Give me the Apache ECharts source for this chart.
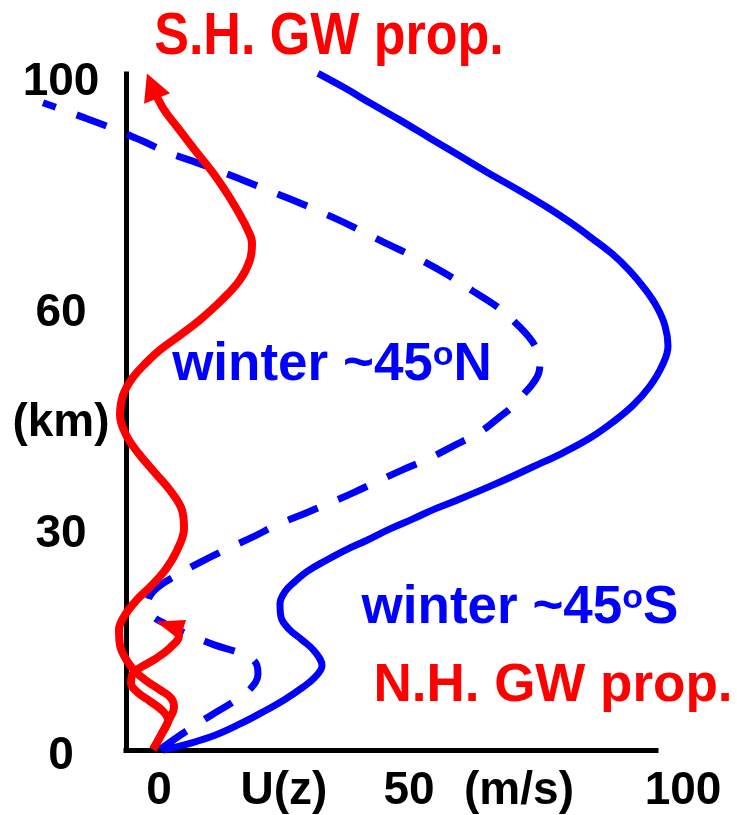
<!DOCTYPE html>
<html><head><meta charset="utf-8">
<script src="https://cdn.jsdelivr.net/npm/echarts@6/dist/echarts.min.js"></script>
<style>html,body{margin:0;padding:0;background:#fff}#c{width:737px;height:815px}</style>
</head><body><div id="c"></div>
<script>
// Schematic profiles [U (m/s), z (km-like plot units)]
const winterSouth = [[0.8,0.0],[6.2,1.0],[11.2,2.2],[16.2,3.9],[20.8,5.7],[25.0,7.5],[28.6,9.3],[31.2,10.9],[32.6,12.6],[31.2,14.7],[28.6,16.5],[26.0,18.1],[24.4,19.9],[24.2,21.9],[25.2,23.7],[27.0,25.1],[29.8,26.8],[33.2,28.3],[37.2,29.9],[41.6,31.4],[46.2,33.1],[50.8,34.6],[55.2,36.1],[59.6,37.4],[67.2,39.8],[74.8,42.4],[80.8,44.5],[86.2,46.7],[90.8,49.1],[94.8,51.6],[98.2,54.5],[100.6,57.5],[101.8,60.5],[101.2,63.5],[99.6,66.3],[97.2,69.0],[94.2,71.7],[90.6,74.3],[86.6,76.6],[82.4,78.9],[78.2,81.0],[72.2,83.7],[65.6,86.5],[59.8,89.1],[54.2,91.6],[48.2,94.3],[42.6,96.7],[37.2,99.1],[31.8,101.3]];
const winterNorth = [[0.2,0.1],[5.2,2.7],[10.2,5.1],[14.8,7.2],[18.2,9.1],[19.8,11.4],[19.2,13.2],[16.2,14.5],[11.2,15.7],[6.2,17.2],[1.2,18.9],[-1.8,20.5],[-2.2,22.0],[-0.8,24.0],[3.6,26.2],[8.2,28.1],[13.6,30.1],[18.8,31.9],[23.6,33.7],[28.8,35.3],[34.2,37.0],[38.8,38.5],[44.2,40.4],[48.6,41.9],[54.2,43.7],[58.8,45.5],[64.2,47.6],[68.2,49.9],[71.0,51.6],[73.0,53.3],[74.8,54.9],[76.0,56.6],[76.2,58.4],[75.4,60.2],[74.0,61.8],[71.8,63.6],[69.4,65.3],[66.8,66.8],[62.8,68.7],[57.8,71.1],[52.8,73.2],[47.8,75.0],[42.8,76.8],[37.8,78.7],[32.8,80.4],[27.8,82.0],[22.8,83.5],[17.2,85.2],[11.6,86.8],[6.6,88.2],[1.6,89.5],[-3.4,91.2],[-8.4,92.8],[-15.8,94.9],[-23.2,96.9]];
const shGW = [[-1.2,0.1],[0.6,2.5],[2.2,4.8],[3.0,6.4],[2.4,7.8],[0.2,9.0],[-2.4,10.3],[-4.8,11.8],[-6.6,13.6],[-7.8,15.7],[-8.0,18.0],[-6.8,20.2],[-4.4,22.5],[-1.8,24.4],[1.2,26.9],[3.6,29.9],[5.0,33.2],[4.6,35.9],[2.6,38.5],[-0.8,41.5],[-4.2,44.5],[-6.6,47.2],[-7.8,50.1],[-7.2,53.1],[-5.2,55.8],[-2.4,58.1],[0.2,59.9],[4.2,62.1],[8.2,64.4],[12.6,67.4],[16.2,70.4],[18.2,73.4],[18.6,75.9],[17.6,78.1],[16.2,80.1],[13.8,83.1],[10.8,86.4],[7.2,89.8],[3.6,93.3],[0.8,96.1],[-1.4,99.4]];
const nhGW = [[-1.2,0.1],[0.6,2.5],[1.8,4.5],[0.8,5.8],[-1.8,7.3],[-4.4,8.7],[-5.6,10.0],[-5.4,11.2],[-3.8,12.3],[-0.8,13.6],[2.2,15.3],[4.0,17.1],[2.1,18.6]];

const uTickValues = [0, 25, 50, 72, 99];
const uTickLabels = ['0', 'U(z)', '50', '(m/s)', '100'];
const zTickValues = [0, 32.3, 48.9, 65.3, 100];
const zTickLabels = ['0', '30', '(km)', '60', '100'];

const titleText = 'S.H. GW prop.';
const nhText = 'N.H. GW prop.';
const northText = ['winter ~45', 'o', 'N'];
const southText = ['winter ~45', 'o', 'S'];

const FF = '"Liberation Sans", Arial, Helvetica, sans-serif';
function nearestIdx(arr, v){let b=0;for(let i=1;i<arr.length;i++){if(Math.abs(arr[i]-v)<Math.abs(arr[b]-v))b=i;}return b;}

function richLabel(parts, color){
  return {
    text: '{a|' + parts[0] + '}{s|' + parts[1] + '}{a|' + parts[2] + '}',
    align: 'center', verticalAlign: 'middle',
    rich: {
      a: {fontSize: 53, fontWeight: 'bold', fontFamily: FF, fill: color, color: color, lineHeight: 53, verticalAlign: 'middle'},
      s: {fontSize: 34, fontWeight: 'bold', fontFamily: FF, fill: color, color: color, lineHeight: 28, verticalAlign: 'top'}
    }
  };
}

// Axis frames: grid 0 is a wider drawing frame (same scale: 5 px per m/s, 6.68 px per unit height)
// so curves running past the visible axes are not clipped; grid 1 carries the visible axes.
const chart = echarts.init(document.getElementById('c'), null, {renderer: 'canvas'});
chart.setOption({
  animation: false,
  backgroundColor: '#fff',
  grid: [
    {left: 39, right: 63, top: 62, bottom: 65, containLabel: false},
    {left: 126, right: 81, top: 74, bottom: 65, containLabel: false}
  ],
  xAxis: [
    {type: 'value', gridIndex: 0, min: -24, max: 103, show: false},
    {
      type: 'value', gridIndex: 1, min: -6.6, max: 99.4,
      axisLine: {show: true, onZero: false, lineStyle: {color: '#000', width: 5, cap: 'square'}},
      axisTick: {show: false},
      splitLine: {show: false},
      axisLabel: {
        customValues: uTickValues,
        margin: 41, verticalAlign: 'middle',
        color: '#000', fontSize: 46, fontWeight: 'bold', fontFamily: FF,
        formatter: function(v){ const i = nearestIdx(uTickValues, v); const t = uTickLabels[i]; return i === uTickValues.length-1 ? '{far|' + t + '}' : t; },
        rich: {far: {padding: [0,0,0,58], color: '#000', fontSize: 46, fontWeight: 'bold', fontFamily: FF}}
      }
    }
  ],
  yAxis: [
    {type: 'value', gridIndex: 0, min: 0, max: 103, show: false},
    {
      type: 'value', gridIndex: 1, min: 0, max: 101.2,
      axisLine: {show: true, onZero: false, lineStyle: {color: '#000', width: 5, cap: 'square'}},
      axisTick: {show: false},
      splitLine: {show: false},
      axisLabel: {
        customValues: zTickValues,
        margin: 65, align: 'center', verticalAlign: 'middle',
        color: '#000', fontSize: 46, fontWeight: 'bold', fontFamily: FF,
        formatter: function(v){ const i = nearestIdx(zTickValues, v); const t = zTickLabels[i]; return i === 0 ? '{low|' + t + '}' : t; },
        rich: {low: {padding: [12,0,0,0], color: '#000', fontSize: 46, fontWeight: 'bold', fontFamily: FF}}
      }
    }
  ],
  series: [
    {type: 'line', xAxisIndex: 0, yAxisIndex: 0, data: winterSouth, smooth: 0.4, symbol: 'none', clip: false, silent: true,
     lineStyle: {color: '#0000ff', width: 7}},
    {type: 'line', xAxisIndex: 0, yAxisIndex: 0, data: winterNorth, smooth: 0.4, symbol: 'none', clip: false, silent: true,
     lineStyle: {color: '#0000ff', width: 7, type: [32, 22]}},
    {type: 'line', xAxisIndex: 0, yAxisIndex: 0, data: shGW, smooth: 0.4, symbol: 'none', clip: false, silent: true,
     lineStyle: {color: '#ff0000', width: 8},
     markPoint: {symbol: 'triangle', symbolSize: [28, 27], symbolRotate: 22, silent: true,
       label: {show: false}, itemStyle: {color: '#ff0000'},
       data: [{coord: shGW[shGW.length-1]}]}},
    {type: 'line', xAxisIndex: 0, yAxisIndex: 0, data: nhGW, smooth: 0.4, symbol: 'none', clip: false, silent: true,
     lineStyle: {color: '#ff0000', width: 8},
     markPoint: {symbol: 'triangle', symbolSize: [21, 28], symbolRotate: 72, silent: true,
       label: {show: false}, itemStyle: {color: '#ff0000'},
       data: [{coord: nhGW[nhGW.length-1]}]}}
  ],
  graphic: [
    {type: 'text', x: 329, y: 37.5, scaleY: 1.15, silent: true,
     style: {text: titleText, fill: '#ff0000', font: 'bold 52px ' + FF, align: 'center', verticalAlign: 'middle'}},
    {type: 'text', x: 332, y: 365, silent: true, style: richLabel(northText, '#0000ff')},
    {type: 'text', x: 520, y: 608, silent: true, style: richLabel(southText, '#0000ff')},
    {type: 'text', x: 553, y: 686, silent: true,
     style: {text: nhText, fill: '#ff0000', font: 'bold 53px ' + FF, align: 'center', verticalAlign: 'middle'}}
  ]
});
</script>
</body></html>
